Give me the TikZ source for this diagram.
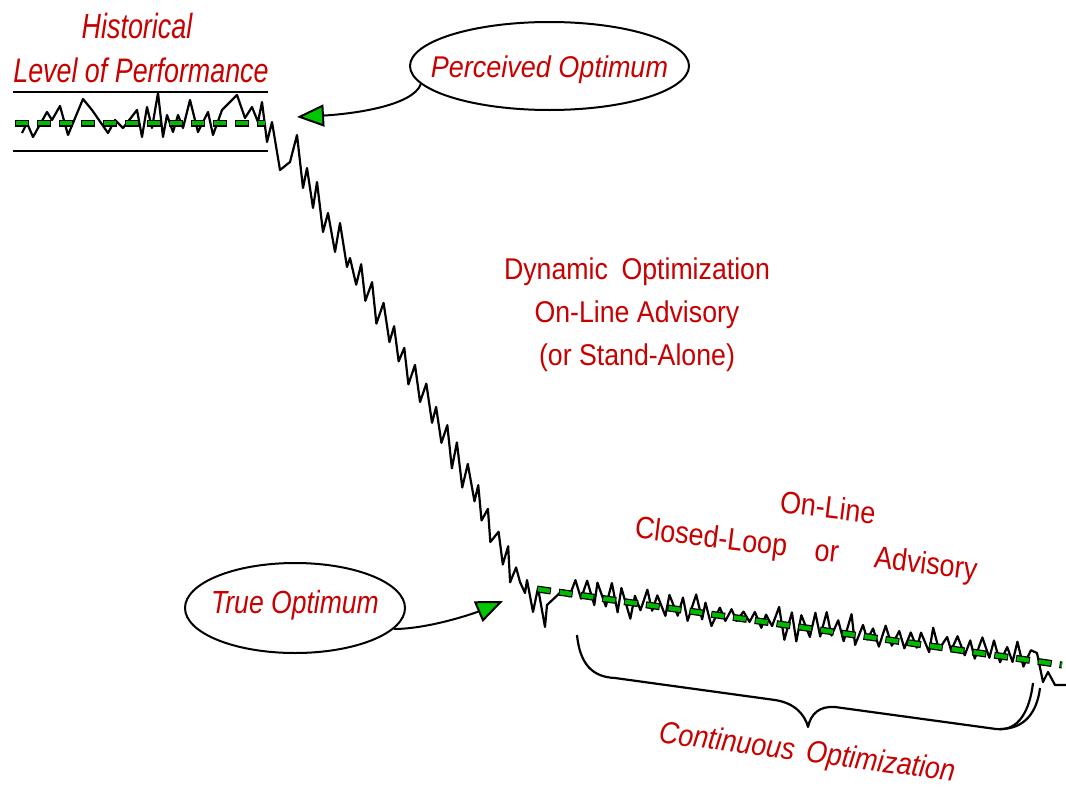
\documentclass[tikz,border=0pt]{standalone}
\usepackage{fontspec}
\usepackage{graphicx}
\setmainfont{Liberation Sans}
\newfontfamily\labfont{Liberation Sans}
\usetikzlibrary{shapes.geometric,arrows.meta}
\definecolor{labred}{RGB}{200,0,0}
\definecolor{argreen}{RGB}{0,200,0}
\definecolor{dgreen}{RGB}{0,185,0}
\newcommand\hsq[2]{\scalebox{#1}[1]{#2}}
\begin{document}
\begin{tikzpicture}[x=1pt,y=-1pt,
  lab/.style={text=labred, inner sep=0pt, font=\labfont},
  sig/.style={line width=2.2pt, line join=round},
  rulel/.style={line width=1.6pt},
  oval/.style={ellipse, draw=black, line width=2pt, inner sep=0pt, text=labred, font=\labfont},
  callout/.style={line width=2pt, -{Triangle[length=27pt,width=22pt,fill=argreen]}},
  bracel/.style={line width=2.2pt, line join=round},
  dblk/.style={line width=7pt, draw=black, dash pattern=on 14pt off 8pt},
  dgrn/.style={line width=4.5pt, draw=dgreen, dash pattern=on 12pt off 10pt, dash phase=21pt}]
\useasboundingbox (0,0) rectangle (1066,790);
\pgfmathsetseed{11}

% labels
\node[lab, anchor=base] (hist1) at (137,38) {\fontsize{35}{40}\selectfont\itshape\hsq{0.77}{Historical}};
\node[lab, anchor=base] (hist2) at (141,82) {\fontsize{34}{40}\selectfont\itshape\hsq{0.79}{Level of Performance}};

\node[lab, anchor=base] (dyn1) at (637,279) {\fontsize{30}{36}\selectfont\hsq{0.89}{Dynamic\hspace{7pt} Optimization}};
\node[lab, anchor=base] (dyn2) at (637,322) {\fontsize{30}{36}\selectfont\hsq{0.89}{On-Line Advisory}};
\node[lab, anchor=base] (dyn3) at (637,365) {\fontsize{30}{36}\selectfont\hsq{0.89}{(or Stand-Alone)}};

\node[lab, rotate=-7] (onl) at (828,507) {\fontsize{31}{36}\selectfont\hsq{0.87}{On-Line}};
\node[lab, rotate=-7] (clo) at (806,551) {\fontsize{31}{36}\selectfont\hsq{0.87}{Closed-Loop}\hspace{28pt}\hsq{0.87}{or}\hspace{36pt}\hsq{0.87}{Advisory}};

\node[lab, rotate=-7.5] (cont) at (807,754) {\fontsize{31}{36}\selectfont\itshape\hsq{0.87}{Continuous\hspace{5pt} Optimization}};

% ellipses
\node[oval, minimum width=279pt, minimum height=88pt, text height=24pt, text depth=2pt] (perc) at (549.5,66)
  {\makebox[0pt][c]{\fontsize{30}{36}\selectfont\itshape\hsq{0.9}{Perceived Optimum}}};
\node[oval, minimum width=220pt, minimum height=90pt, text height=20pt, text depth=10pt] (true) at (295,608)
  {\makebox[0pt][c]{\fontsize{32}{36}\selectfont\itshape\hsq{0.83}{True Optimum}}};

% historical band
\draw[rulel] (13,92) -- (268,92);
\draw[rulel] (13,151) -- (268,151);

% signal
\draw[sig] (22,133) -- (27,123) -- (33,137) -- (47,112) -- (52,120) -- (60,106) -- (68,135) -- (83,99)
  -- (92,110) -- (108,133) -- (115,120) -- (123,128) -- (137,110) -- (142,137) -- (147,107) -- (152,128)
  -- (158,93) -- (163,137) -- (167,115) -- (173,132) -- (178,115) -- (183,128) -- (190,100) -- (198,132)
  -- (208,112) -- (213,135) -- (222,110) -- (237,95) -- (245,118) -- (252,107) -- (258,122) -- (262,102)
  -- (267,142) -- (272,122) -- (280,170) -- (290,162) -- (297,135) -- (303,188) -- (307,168) -- (313,208)
  -- (317,182) -- (323,232) -- (328,213) -- (335,252) -- (340,223) -- (347,267) -- (350,258)
  \foreach \k in {1,...,14} { -- ({350+5.357*\k+2*rand},{258+10.143*\k+(2*mod(\k,2)-1)*(11+8*rnd)}) }
  \foreach \k in {1,...,10} { -- ({425+5.3*\k+2*rand},{400+10*\k+(2*mod(\k,2)-1)*(11+8*rnd)}) }
  \foreach \k in {1,...,8} { -- ({478+4.75*\k+2*rand},{500+10.25*\k+(2*mod(\k,2)-1)*(9+8*rnd)}) }
  -- (520,582) -- (525,593) -- (527,580) -- (533,612) -- (538,588) -- (545,627) -- (547,605) -- (563,590)
  \foreach \k in {1,...,78} { -- ({563+5.987*\k+1.5*rand},{589+0.1448*(26+5.987*\k)-3+(2*mod(\k,2)-1)*(4+10*rnd+24*rnd*rnd*rnd*rnd)}) }
  -- (1037,653) -- (1043,682) -- (1048,672) -- (1055,685) -- (1066,685);

% mean lines
\draw[dblk] (15,123) -- (265,123);
\draw[dgrn] (15,123) -- (265,123);
\draw[dblk] (537,589) -- (1062,665);
\draw[dgrn] (537,589) -- (1062,665);

% callouts
\coordinate (ptip) at (297,117);
\coordinate (ttip) at (503,601);
\draw[callout] (perc.188) .. controls +(-8,22) and +(55,-3) .. (ptip);
\draw[callout] (true.-12) .. controls +(35,0) and +(-28,12) .. (ttip);

% brace
\draw[bracel] (577,635) .. controls (580,665) and (593,677) .. (615,678) -- (775,700)
  .. controls (795,703) and (805,715) .. (808,727) .. controls (811,713) and (820,706) .. (835,707)
  -- (996,729) .. controls (1020,732) and (1030,708) .. (1033,683);
\draw[bracel] (1000,729) .. controls (1025,729) and (1037,712) .. (1040,688);
\end{tikzpicture}
\end{document}
